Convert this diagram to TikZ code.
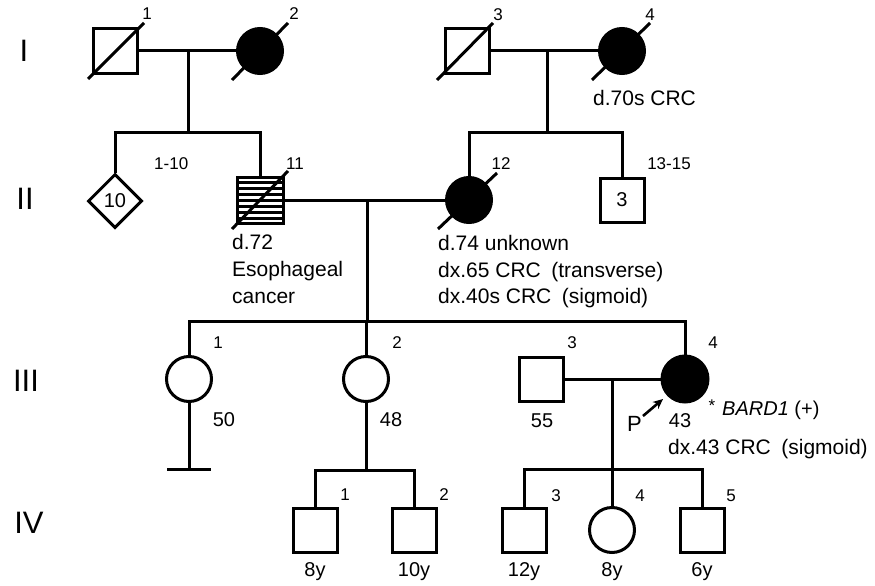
\documentclass[tikz,border=0pt]{standalone}
\usepackage{fontspec}
\setmainfont{Liberation Sans}
\usetikzlibrary{shapes.geometric,arrows.meta,calc}
\begin{document}
\begin{tikzpicture}[x=1pt,y=-1pt,
  lw/.style={line width=3pt},
  sq/.style={draw,lw,rectangle,minimum size=44pt,inner sep=0pt,font=\fontsize{20}{22}\selectfont},
  ci/.style={draw,lw,circle,minimum size=45pt,inner sep=0pt},
  aff/.style={ci,fill=black},
  dia/.style={draw,lw,diamond,minimum width=54pt,minimum height=54pt,inner sep=0pt,font=\fontsize{20}{22}\selectfont},
  link/.style={lw},
  idx/.style={font=\fontsize{17}{19}\selectfont,inner sep=0pt},
  age/.style={font=\fontsize{20}{22}\selectfont,inner sep=0pt},
  txt/.style={font=\fontsize{21}{26}\selectfont,inner sep=0pt,anchor=base west},
  gen/.style={font=\fontsize{31}{34}\selectfont,inner sep=0pt},
  parrow/.style={line width=2.6pt,-{Stealth[length=10pt,width=9pt]}},
]
\fill[white] (0,0) rectangle (875,586);
\useasboundingbox (0,0) rectangle (875,586);

% generation labels
\node[gen] (gI) at (24,51) {I};
\node[gen] (gII) at (25,199) {II};
\node[gen] (gIII) at (26,381) {III};
\node[gen] (gIV) at (29,523) {IV};

% ---------- Generation I ----------
\node[sq] (I1) at (115,51) {};
\node[aff] (I2) at (260,51) {};
\node[sq] (I3) at (467,51) {};
\node[aff] (I4) at (622,51) {};
\draw[lw] ($(I1.center)+(-27,28)$) -- ($(I1.center)+(29,-28)$);
\draw[lw] ($(I2.center)+(-28,29)$) -- ($(I2.center)+(28,-28)$);
\draw[lw] ($(I3.center)+(-30,29)$) -- ($(I3.center)+(26,-28)$);
\draw[lw] ($(I4.center)+(-30,29)$) -- ($(I4.center)+(28,-28)$);
\node[idx] (lI1) at (147,14) {1};
\node[idx] (lI2) at (294,14) {2};
\node[idx] (lI3) at (498,15) {3};
\node[idx] (lI4) at (650,15) {4};
\node[txt] (tI4) at (593,105) {d.70s CRC};

% ---------- Generation II ----------
\node[dia] (II1) at (115,201) {10};
\node[sq,minimum size=46pt] (II11) at (260,200) {};
\foreach \d in {-18,-12,-6,0,6,12,18}
  \draw[line width=3pt] ($(II11.center)+(-23,\d)$) -- ($(II11.center)+(23,\d)$);
\node[aff] (II12) at (469,200) {};
\node[sq] (II13) at (622,200) {3};
\draw[lw] ($(II11.center)+(-28,29)$) -- ($(II11.center)+(28,-29)$);
\draw[lw] ($(II12.center)+(-31,29)$) -- ($(II12.center)+(28,-27)$);
\node[idx,anchor=west] (lII1) at (154,164) {1-10};
\node[idx] (lII11) at (295,164) {11};
\node[idx] (lII12) at (501,164) {12};
\node[idx] (lII13) at (669,164) {13-15};
\node[txt] (tII11a) at (232,249) {d.72};
\node[txt] (tII11b) at (232,276) {Esophageal};
\node[txt] (tII11c) at (232,303) {cancer};
\node[txt] (tII12a) at (438,250) {d.74 unknown};
\node[txt] (tII12b) at (438,277) {dx.65 CRC\hspace{0.5em}(transverse)};
\node[txt] (tII12c) at (438,303) {dx.40s CRC\hspace{0.5em}(sigmoid)};

% ---------- Generation III ----------
\node[ci] (III1) at (189,379) {};
\node[ci] (III2) at (366,379) {};
\node[sq] (III3) at (541,379) {};
\node[aff,minimum size=46pt] (III4) at (685,379) {};
\node[idx] (lIII1) at (218,343) {1};
\node[idx] (lIII2) at (397,343) {2};
\node[idx] (lIII3) at (572,343) {3};
\node[idx] (lIII4) at (713,343) {4};
\node[age] (aIII1) at (224,420) {50};
\node[age] (aIII2) at (391,420) {48};
\node[age] (aIII3) at (542,421) {55};
\node[age] (aIII4) at (680,421) {43};
\node[font=\fontsize{17}{19}\selectfont,inner sep=0pt,anchor=base] (ast) at (712,411) {*};
\node[txt,font=\fontsize{20}{22}\selectfont] (bard) at (722,415) {\itshape BARD1\upshape\ (+)};
\node[txt] (tIII4) at (668,454) {dx.43 CRC\hspace{0.5em}(sigmoid)};
\node[font=\fontsize{22}{24}\selectfont,inner sep=0pt] (P) at (634.5,424) {P};
\coordinate (ptail) at (643,416);
\coordinate (phead) at (663,399);
\draw[parrow] (ptail) -- (phead);

% ---------- Generation IV ----------
\node[sq] (IV1) at (315,530) {};
\node[sq] (IV2) at (414,530) {};
\node[sq] (IV3) at (524,530) {};
\node[ci] (IV4) at (612,530) {};
\node[sq] (IV5) at (702,530) {};
\node[idx] (lIV1) at (345,495) {1};
\node[idx] (lIV2) at (444,495) {2};
\node[idx] (lIV3) at (556,496) {3};
\node[idx] (lIV4) at (640,496) {4};
\node[idx] (lIV5) at (731,496) {5};
\node[age,anchor=base] (aIV1) at (315,576) {8y};
\node[age,anchor=base] (aIV2) at (414,576) {10y};
\node[age,anchor=base] (aIV3) at (524,576) {12y};
\node[age,anchor=base] (aIV4) at (612,576) {8y};
\node[age,anchor=base] (aIV5) at (702,576) {6y};

% ---------- connectors ----------
% I-1 x I-2
\draw[link] (I1.east) -- (I2.west);
\coordinate (d1) at (188,51);
\coordinate (s1) at (188,132);
\draw[link] (d1) -- (s1);
\draw[link] (II1.north) -- (II1.north |- s1) -- (II11.north |- s1) -- (II11.north);
% I-3 x I-4
\draw[link] (I3.east) -- (I4.west);
\coordinate (d2) at (547,51);
\coordinate (s2) at (547,132);
\draw[link] (d2) -- (s2);
\draw[link] (II12.north) -- (II12.north |- s2) -- (II13.north |- s2) -- (II13.north);
% II-11 x II-12
\draw[link] (II11.east) -- (II12.west);
\coordinate (d3) at (367,200);
\coordinate (s3) at (367,321);
\draw[link] (d3) -- (s3);
\draw[link] (III1.north) -- (III1.north |- s3) -- (III4.north |- s3) -- (III4.north);
\draw[link] (III2.north) -- (III2.north |- s3);
% III-1 no offspring
\coordinate (n1) at (189,469);
\draw[link] (III1.south) -- (n1);
\draw[link] ($(n1)+(-22,0)$) -- ($(n1)+(22,0)$);
% III-2 children
\coordinate (s4) at (366,470);
\draw[link] (III2.south) -- (s4);
\draw[link] (IV1.north) -- (IV1.north |- s4) -- (IV2.north |- s4) -- (IV2.north);
% III-3 x III-4
\draw[link] (III3.east) -- (III4.west);
\coordinate (d5) at (612,379);
\coordinate (s5) at (612,469);
\draw[link] (d5) -- (s5);
\draw[link] (IV3.north) -- (IV3.north |- s5) -- (IV5.north |- s5) -- (IV5.north);
\draw[link] (IV4.north) -- (IV4.north |- s5);
\end{tikzpicture}
\end{document}
